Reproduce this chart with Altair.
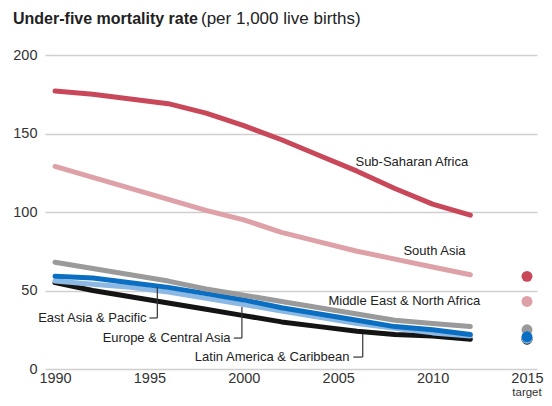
import altair as alt
import pandas as pd

years = [1990, 1992, 1994, 1996, 1998, 2000, 2002, 2004, 2006, 2008, 2010, 2012]
ssa = [177, 175, 172, 169, 163, 155, 146, 136, 126, 115, 105, 98]
south_asia = [129, 122, 115, 108, 101, 95, 87, 81, 75, 70, 65, 60]
mena = [68, 64, 60, 56, 51, 47, 43, 39, 35, 31, 29, 27]
eap = [59, 58, 55, 52, 48, 44, 39, 35, 31, 27, 25, 22]
eca = [56, 54, 52, 49, 45, 41, 37, 33, 29, 26, 23, 21]
lac = [55, 50, 46, 42, 38, 34, 30, 27, 24, 22, 21, 19]

series_names = ["Latin America & Caribbean", "Europe & Central Asia", "East Asia & Pacific",
                "Middle East & North Africa", "South Asia", "Sub-Saharan Africa"]
series_values = [lac, eca, eap, mena, south_asia, ssa]
series_colors = ["#141414", "#8cb9e3", "#0a6ec2", "#9a9a9a", "#dea1a7", "#c8485a"]

target_year = 2015
targets = [19, 19.5, 20.5, 25, 43, 59]
target_draw_order = [2, 3, 4, 1, 5, 6]

# label positions (data coords)
label_text = ["Sub-Saharan Africa", "South Asia", "Middle East & North Africa"]
label_x = [2008.9, 2010.1, 2008.5]
label_y = [132, 75, 43.5]

leader_text = ["East Asia & Pacific", "Europe & Central Asia", "Latin America & Caribbean"]
leader_text_x = [1994.85, 1999.3, 2005.6]
leader_x = [1995.42, 1999.9, 2006.3]
leader_top = [52, 39.5, 22.3]
leader_bottom = [32.5, 19.7, 7.6]
leader_hstart = [1995.0, 1999.47, 2005.8]

W, H = 492, 314
xs = alt.Scale(domain=[1989.47, 2015.53], nice=False, zero=False)
ys = alt.Scale(domain=[0, 200], nice=False)
FONT = "Liberation Sans"

layers = []

axis_df = pd.DataFrame({"x": [1990], "y": [0]})
base_axes = alt.Chart(axis_df).mark_point(opacity=0).encode(
    x=alt.X("x:Q", scale=xs, title=None,
            axis=alt.Axis(values=[1990, 1995, 2000, 2005, 2010, 2015], format="d", grid=False,
                          domain=False, ticks=False, labelPadding=2, labelFontSize=14.5,
                          labelColor="#333", labelFont=FONT)),
    y=alt.Y("y:Q", scale=ys, title=None,
            axis=alt.Axis(values=[0, 50, 100, 150, 200], grid=True, gridColor="#cfcfcf",
                          gridWidth=1.5, domain=False, ticks=False, labelPadding=8,
                          labelFontSize=14.5, labelColor="#333", labelFont=FONT)),
)
layers.append(base_axes)

for name, vals, col in zip(series_names, series_values, series_colors):
    df = pd.DataFrame({"year": years, "value": vals, "series": name})
    layers.append(
        alt.Chart(df).mark_line(strokeWidth=5, strokeCap="round", strokeJoin="round", color=col).encode(
            x=alt.X("year:Q", scale=xs), y=alt.Y("value:Q", scale=ys)
        )
    )

tdf = pd.DataFrame({"year": [target_year] * len(targets), "value": targets,
                    "series": series_names, "color": series_colors, "ord": target_draw_order})
layers.append(
    alt.Chart(tdf).mark_circle(size=120, opacity=1).encode(
        x=alt.X("year:Q", scale=xs), y=alt.Y("value:Q", scale=ys),
        color=alt.Color("color:N", scale=None),
        order=alt.Order("ord:Q", sort="ascending"),
    )
)

ldf = pd.DataFrame({"x": label_x, "y": label_y, "t": label_text})
layers.append(
    alt.Chart(ldf).mark_text(font=FONT, fontSize=13, color="#222", align="center", baseline="middle").encode(
        x=alt.X("x:Q", scale=xs), y=alt.Y("y:Q", scale=ys), text="t:N"
    )
)

lead = pd.DataFrame({"tx": leader_text_x, "x": leader_x, "top": leader_top, "bot": leader_bottom,
                     "hs": leader_hstart, "t": leader_text})
layers.append(
    alt.Chart(lead).mark_rule(color="#333", strokeWidth=1.2).encode(
        x=alt.X("x:Q", scale=xs), y=alt.Y("top:Q", scale=ys), y2="bot:Q"
    )
)
layers.append(
    alt.Chart(lead).mark_rule(color="#333", strokeWidth=1.2).encode(
        x=alt.X("hs:Q", scale=xs), x2="x:Q", y=alt.Y("bot:Q", scale=ys)
    )
)
layers.append(
    alt.Chart(lead).mark_text(font=FONT, fontSize=13, color="#222", align="right", baseline="middle").encode(
        x=alt.X("tx:Q", scale=xs), y=alt.Y("bot:Q", scale=ys), text="t:N"
    )
)

one = pd.DataFrame({"a": [0]})
layers.append(
    alt.Chart(pd.DataFrame({"year": [target_year]})).mark_text(
        font=FONT, fontSize=11.5, color="#333", align="center", baseline="middle", text="target"
    ).encode(x=alt.X("year:Q", scale=xs), y=alt.value(H + 24))
)
layers.append(
    alt.Chart(one).mark_text(font=FONT, fontSize=16, fontWeight="bold", color="#222",
                             align="left", baseline="alphabetic", text="Under-five mortality rate"
    ).encode(x=alt.value(-32), y=alt.value(-31))
)
layers.append(
    alt.Chart(one).mark_text(font=FONT, fontSize=17, color="#222",
                             align="left", baseline="alphabetic", text="(per 1,000 live births)"
    ).encode(x=alt.value(156), y=alt.value(-31))
)

chart = alt.layer(*layers).properties(
    width=W, height=H,
    autosize=alt.AutoSizeParams(type="none"),
    padding={"left": 37, "top": 47, "right": 7, "bottom": 29},
).configure_view(stroke=None)

chart.save("out.html", embed_options={"renderer": "svg", "actions": False})
